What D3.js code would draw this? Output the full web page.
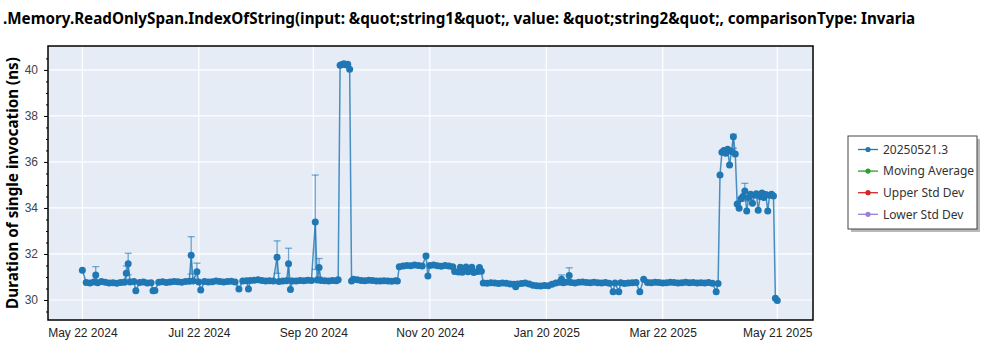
<!DOCTYPE html>
<html>
<head>
<meta charset="utf-8">
<script src="https://cdn.jsdelivr.net/npm/d3@7"></script>
<style>
  html, body { margin: 0; padding: 0; background: #fff; }
  svg { display: block; font-family: "Noto Sans", "Open Sans", sans-serif; }
</style>
</head>
<body>
<svg id="chart" width="1000" height="350"></svg>
<script>
// ---- benchmark run data ----
const runDates = [
  "2024-05-22","2024-05-24","2024-05-26","2024-05-28","2024-05-29","2024-05-30",
  "2024-06-01","2024-06-03","2024-06-05","2024-06-07","2024-06-09","2024-06-11","2024-06-13","2024-06-14","2024-06-15","2024-06-16","2024-06-18","2024-06-19","2024-06-21","2024-06-23","2024-06-25","2024-06-27","2024-06-28","2024-06-29",
  "2024-07-01","2024-07-03","2024-07-05","2024-07-07","2024-07-09","2024-07-11","2024-07-13","2024-07-15","2024-07-17","2024-07-18","2024-07-19","2024-07-21","2024-07-22","2024-07-23","2024-07-25","2024-07-27","2024-07-29","2024-07-31",
  "2024-08-02","2024-08-04","2024-08-06","2024-08-08","2024-08-10","2024-08-12","2024-08-14","2024-08-16","2024-08-17","2024-08-18","2024-08-20","2024-08-22","2024-08-24","2024-08-26","2024-08-28","2024-08-30",
  "2024-09-01","2024-09-02","2024-09-04","2024-09-06","2024-09-07","2024-09-08","2024-09-09","2024-09-11","2024-09-13","2024-09-15","2024-09-17","2024-09-19","2024-09-21","2024-09-22","2024-09-23","2024-09-24","2024-09-26","2024-09-28","2024-09-30",
  "2024-10-02","2024-10-03","2024-10-04","2024-10-05","2024-10-06","2024-10-07","2024-10-08","2024-10-09","2024-10-10","2024-10-11","2024-10-13","2024-10-15","2024-10-17","2024-10-19","2024-10-21","2024-10-23","2024-10-25","2024-10-27","2024-10-29","2024-10-31",
  "2024-11-02","2024-11-03","2024-11-04","2024-11-06","2024-11-08","2024-11-10","2024-11-12","2024-11-14","2024-11-16","2024-11-18","2024-11-19","2024-11-20","2024-11-22","2024-11-24","2024-11-26","2024-11-28","2024-11-30",
  "2024-12-02","2024-12-03","2024-12-05","2024-12-06","2024-12-07","2024-12-09","2024-12-10","2024-12-12","2024-12-13","2024-12-15","2024-12-16","2024-12-17","2024-12-18","2024-12-20","2024-12-22","2024-12-24","2024-12-26","2024-12-28","2024-12-30",
  "2025-01-01","2025-01-03","2025-01-04","2025-01-05","2025-01-07","2025-01-09","2025-01-11","2025-01-13","2025-01-15","2025-01-17","2025-01-19","2025-01-21","2025-01-23","2025-01-25","2025-01-27","2025-01-28","2025-01-29","2025-01-31",
  "2025-02-01","2025-02-02","2025-02-04","2025-02-06","2025-02-08","2025-02-10","2025-02-12","2025-02-14","2025-02-16","2025-02-18","2025-02-20","2025-02-22","2025-02-24","2025-02-25","2025-02-27","2025-02-28",
  "2025-03-02","2025-03-04","2025-03-06","2025-03-08","2025-03-10","2025-03-12","2025-03-14","2025-03-16","2025-03-18","2025-03-20","2025-03-22","2025-03-24","2025-03-26","2025-03-28","2025-03-30",
  "2025-04-01","2025-04-03","2025-04-05","2025-04-07","2025-04-09","2025-04-11","2025-04-13","2025-04-15","2025-04-17","2025-04-19","2025-04-20","2025-04-21","2025-04-22","2025-04-23","2025-04-24","2025-04-25","2025-04-26","2025-04-27","2025-04-28","2025-04-29","2025-04-30",
  "2025-05-01","2025-05-02","2025-05-03","2025-05-04","2025-05-05","2025-05-06","2025-05-07","2025-05-08","2025-05-09","2025-05-10","2025-05-11","2025-05-12","2025-05-13","2025-05-14","2025-05-15","2025-05-16","2025-05-17","2025-05-18","2025-05-19","2025-05-20","2025-05-21"
];

const durations = [
  31.29,30.76,30.74,30.78,31.09,30.75,
  30.80,30.77,30.74,30.75,30.73,30.76,30.77,31.16,31.57,30.78,30.80,30.40,30.76,30.78,30.74,30.75,30.40,30.41,
  30.77,30.79,30.76,30.78,30.80,30.79,30.77,30.80,30.81,31.94,30.82,31.23,30.78,30.43,30.80,30.78,30.79,30.82,
  30.80,30.78,30.80,30.81,30.78,30.48,30.82,30.84,30.48,30.85,30.86,30.88,30.85,30.83,30.84,30.82,
  31.86,30.80,30.82,30.84,31.57,30.46,30.82,30.83,30.85,30.84,30.86,30.85,33.39,30.87,31.41,30.85,30.84,30.83,30.85,
  30.84,30.88,40.20,40.24,40.27,40.22,40.25,40.03,30.82,30.90,30.88,30.85,30.84,30.86,30.85,30.83,30.82,30.84,30.83,30.81,
  30.84,30.82,31.45,31.48,31.50,31.49,31.52,31.50,31.48,31.91,31.04,31.50,31.52,31.49,31.47,31.50,31.48,
  31.45,31.24,31.22,31.42,31.21,31.43,31.23,31.42,31.20,31.24,31.41,31.25,30.74,30.73,30.75,30.74,30.72,30.74,30.73,
  30.70,30.68,30.58,30.70,30.72,30.74,30.70,30.64,30.62,30.61,30.63,30.62,30.68,30.74,30.77,30.90,30.75,30.78,
  31.06,30.76,30.74,30.77,30.78,30.76,30.75,30.77,30.75,30.74,30.76,30.73,30.36,30.74,30.36,30.75,
  30.72,30.74,30.75,30.76,30.36,30.90,30.76,30.75,30.77,30.76,30.74,30.75,30.77,30.76,30.74,
  30.75,30.77,30.75,30.76,30.74,30.75,30.74,30.76,30.73,30.36,30.72,35.43,36.42,36.50,36.38,36.55,35.87,36.45,37.10,36.35,34.17,
  33.99,34.40,34.50,34.74,33.87,34.45,34.60,34.20,34.55,34.62,33.90,34.50,34.65,34.45,34.58,33.87,34.55,34.60,34.52,30.08,29.98
];

// error bars on individual runs
const errDates = ["2024-05-29","2024-06-14","2024-06-15","2024-07-18","2024-07-21","2024-09-01","2024-09-07","2024-09-21","2024-09-23","2025-01-28","2025-02-01","2025-04-28","2025-05-04"];
const errLow   = [30.80,30.90,31.10,31.13,30.85,31.16,30.95,31.33,31.00,30.72,30.76,36.60,34.30];
const errHigh  = [31.45,31.48,32.03,32.75,31.60,32.57,32.25,35.43,31.80,31.09,31.40,37.20,35.07];

// axes and labels
const xTickDates  = ["2024-05-22","2024-07-22","2024-09-20","2024-11-20","2025-01-20","2025-03-22","2025-05-21"];
const xTickLabels = ["May 22 2024","Jul 22 2024","Sep 20 2024","Nov 20 2024","Jan 20 2025","Mar 22 2025","May 21 2025"];
const yTicks = [30, 32, 34, 36, 38, 40];
const yMinorTicks = [29.5,30.5,31,31.5,32.5,33,33.5,34.5,35,35.5,36.5,37,37.5,38.5,39,39.5,40.5];
const legendNames  = ["20250521.3", "Moving Average", "Upper Std Dev", "Lower Std Dev"];
const legendColors = ["#1f77b4", "#2ca02c", "#d62728", "#9b7fd4"];
const titleText = ".Memory.ReadOnlySpan.IndexOfString(input: &quot;string1&quot;, value: &quot;string2&quot;, comparisonType: Invaria";
const yLabelText = "Duration of single invocation (ns)";

// ---- drawing ----
const parse = d3.timeParse("%Y-%m-%d");
const points = runDates.map((d, i) => ({ date: parse(d), v: durations[i] }));
const bars = errDates.map((d, i) => ({ date: parse(d), lo: errLow[i], hi: errHigh[i] }));

const plot = { left: 48, right: 813, top: 46, bottom: 320 };
const svg = d3.select("#chart");

const x = d3.scaleTime()
  .domain([new Date(2024, 4, 4), new Date(2025, 5, 8, 17)])
  .range([plot.left, plot.right]);
const y = d3.scaleLinear()
  .domain([29.13, 41.04])
  .range([plot.bottom, plot.top]);

// plot background
svg.append("rect")
  .attr("x", plot.left).attr("y", plot.top)
  .attr("width", plot.right - plot.left).attr("height", plot.bottom - plot.top)
  .attr("fill", "#e5ecf6");

// grid
const grid = svg.append("g").attr("stroke", "#ffffff").attr("stroke-width", 1.2);
grid.selectAll("line.v").data(xTickDates.map(parse)).join("line")
  .attr("x1", d => x(d)).attr("x2", d => x(d))
  .attr("y1", plot.top).attr("y2", plot.bottom);
grid.selectAll("line.h").data(yTicks).join("line")
  .attr("x1", plot.left).attr("x2", plot.right)
  .attr("y1", d => y(d)).attr("y2", d => y(d));

// clip for the series
svg.append("clipPath").attr("id", "plotClip").append("rect")
  .attr("x", plot.left).attr("y", plot.top)
  .attr("width", plot.right - plot.left).attr("height", plot.bottom - plot.top);
const series = svg.append("g").attr("clip-path", "url(#plotClip)");

// connecting line
series.append("path")
  .datum(points)
  .attr("fill", "none")
  .attr("stroke", "#1f77b4")
  .attr("stroke-width", 1.5)
  .attr("stroke-opacity", 0.8)
  .attr("d", d3.line().x(d => x(d.date)).y(d => y(d.v)));

// error bars
const eb = series.append("g").attr("stroke", "#1f77b4").attr("stroke-width", 1.3).attr("stroke-opacity", 0.6);
eb.selectAll("line.stem").data(bars).join("line")
  .attr("x1", d => x(d.date)).attr("x2", d => x(d.date))
  .attr("y1", d => y(d.lo)).attr("y2", d => y(d.hi));
eb.selectAll("line.capHi").data(bars).join("line")
  .attr("x1", d => x(d.date) - 3.5).attr("x2", d => x(d.date) + 3.5)
  .attr("y1", d => y(d.hi)).attr("y2", d => y(d.hi));
eb.selectAll("line.capLo").data(bars).join("line")
  .attr("x1", d => x(d.date) - 3.5).attr("x2", d => x(d.date) + 3.5)
  .attr("y1", d => y(d.lo)).attr("y2", d => y(d.lo));

// markers
series.append("g").attr("fill", "#1f77b4")
  .selectAll("circle").data(points).join("circle")
  .attr("cx", d => x(d.date)).attr("cy", d => y(d.v)).attr("r", 3.5);

// frame
svg.append("rect")
  .attr("x", plot.left).attr("y", plot.top)
  .attr("width", plot.right - plot.left).attr("height", plot.bottom - plot.top)
  .attr("fill", "none").attr("stroke", "#000").attr("stroke-width", 1.5);

// y axis
const yAxis = svg.append("g").attr("transform", `translate(${plot.left},0)`)
  .call(d3.axisLeft(y).tickValues(yTicks).tickSize(4).tickPadding(6).tickFormat(d3.format("d")));
yAxis.select(".domain").remove();
yAxis.selectAll("text").attr("font-size", 12).attr("fill", "#444");
yAxis.selectAll("line").attr("stroke", "#000");
const yMinor = svg.append("g").attr("transform", `translate(${plot.left},0)`)
  .call(d3.axisLeft(y).tickValues(yMinorTicks).tickSize(2).tickFormat(""));
yMinor.select(".domain").remove();
yMinor.selectAll("line").attr("stroke", "#000");

// x axis
const xAxis = svg.append("g").attr("transform", `translate(0,${plot.bottom})`)
  .call(d3.axisBottom(x).tickValues(xTickDates.map(parse)).tickSize(0).tickPadding(8)
    .tickFormat((d, i) => xTickLabels[i]));
xAxis.select(".domain").remove();
xAxis.selectAll("text").attr("font-size", 12).attr("fill", "#222");

// title (fitted to its line)
const title = svg.append("text")
  .attr("x", 3).attr("y", 24)
  .attr("font-weight", "bold").attr("font-size", 15).attr("fill", "#000")
  .text(titleText);
const tw = title.node().getComputedTextLength();
title.attr("font-size", 15 * 913 / tw);

// y axis title
const yl = svg.append("text")
  .attr("transform", "translate(18,183) rotate(-90)")
  .attr("text-anchor", "middle")
  .attr("font-weight", "bold").attr("font-size", 16).attr("fill", "#000")
  .text(yLabelText);
const yw = yl.node().getComputedTextLength();
yl.attr("font-size", 16 * 252 / yw);

// legend
const lg = svg.append("g");
lg.append("rect").attr("x", 851).attr("y", 139).attr("width", 129).attr("height", 93)
  .attr("fill", "#8a8a8a").attr("opacity", 0.6);
lg.append("rect").attr("x", 848).attr("y", 136).attr("width", 129).attr("height", 93)
  .attr("fill", "#fff").attr("stroke", "#444").attr("stroke-width", 1);
const items = lg.selectAll("g.item").data(legendNames).join("g")
  .attr("transform", (d, i) => `translate(0,${149.5 + i * 21.6})`);
items.append("line").attr("x1", 858).attr("x2", 878).attr("y1", 0).attr("y2", 0)
  .attr("stroke", (d, i) => legendColors[i]).attr("stroke-width", 1.3);
items.append("circle").attr("cx", 868).attr("cy", 0).attr("r", 2.6)
  .attr("fill", (d, i) => legendColors[i]);
items.append("text").attr("x", 883).attr("y", 0).attr("dy", "0.35em")
  .attr("font-size", 12).attr("fill", "#333").text(d => d);
</script>
</body>
</html>
